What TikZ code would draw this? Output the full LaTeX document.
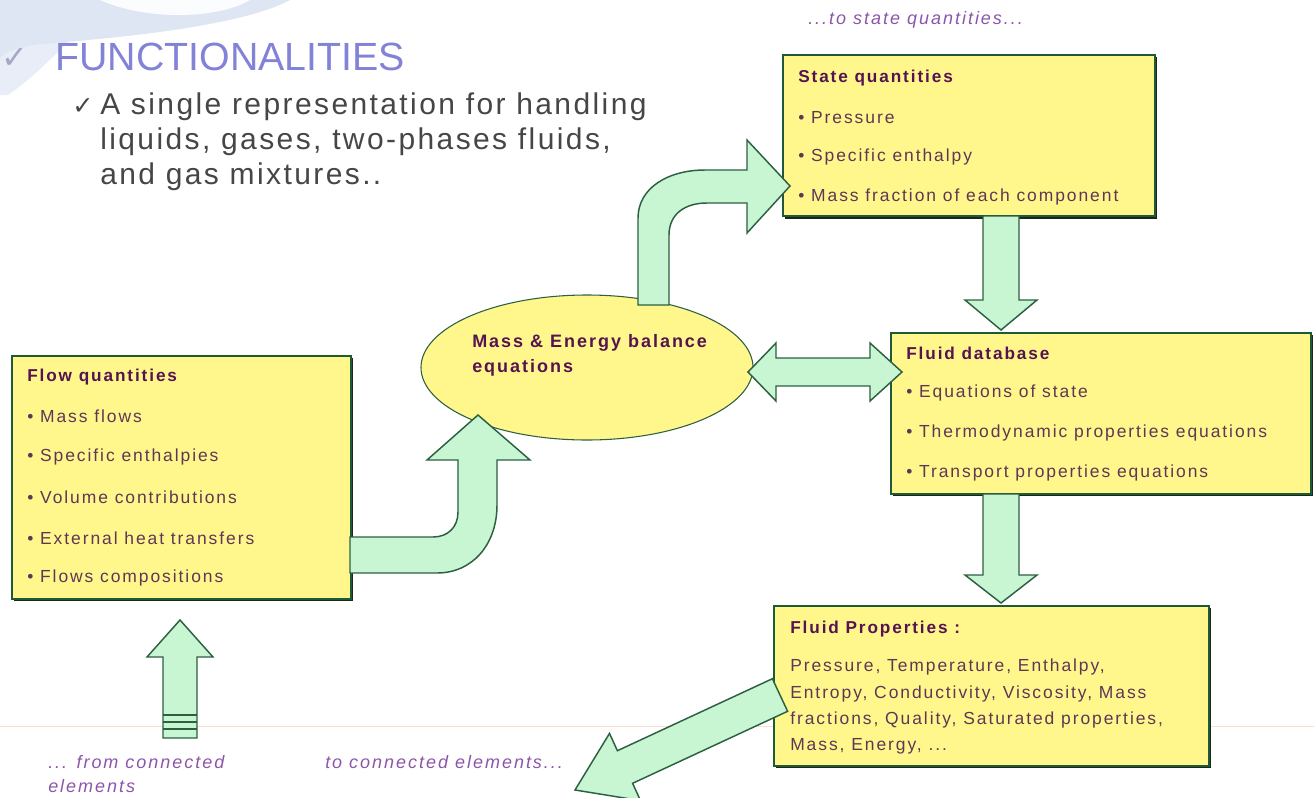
\documentclass[tikz,border=0pt]{standalone}
\usepackage{fontspec}
\setmainfont{Liberation Sans}
\newfontfamily\boxfont[LetterSpace=11]{Liberation Sans}
\newfontfamily\bulfont[LetterSpace=8]{Liberation Sans}
\newfontfamily\symfont{DejaVu Sans}
\usetikzlibrary{shapes.geometric,shadows}
\definecolor{boxfill}{RGB}{255,247,140}
\definecolor{boxline}{RGB}{30,90,55}
\definecolor{shad}{RGB}{25,40,25}
\definecolor{agreen}{RGB}{200,245,210}
\definecolor{aline}{RGB}{45,95,65}
\definecolor{hdcol}{RGB}{85,20,80}
\definecolor{bodycol}{RGB}{95,55,85}
\definecolor{labcol}{RGB}{140,85,170}
\definecolor{titcol}{RGB}{130,130,215}
\definecolor{bultxt}{RGB}{70,70,70}
\definecolor{swoosh}{RGB}{222,230,244}
\definecolor{faint}{RGB}{250,222,205}
\begin{document}
\begin{tikzpicture}[x=0.75pt,y=-0.75pt,
  ybox/.style={draw=boxline, line width=1.5pt, fill=boxfill, rectangle, anchor=north west, inner sep=0pt,
    drop shadow={shadow xshift=1.8pt, shadow yshift=-1.8pt, fill=shad, opacity=1}},
  btxt/.style={anchor=west, inner sep=0pt, text=bodycol, font=\boxfont\fontsize{13.1}{15}\selectfont},
  htxt/.style={anchor=west, inner sep=0pt, text=hdcol, font=\boxfont\bfseries\fontsize{12.9}{15}\selectfont},
  etxt/.style={anchor=west, inner sep=0pt, text=hdcol, font=\boxfont\bfseries\fontsize{13.5}{16}\selectfont},
  blk/.style={fill=agreen, draw=aline, line width=1.1pt, line join=miter},
  lab/.style={anchor=west, inner sep=0pt, text=labcol, font=\boxfont\itshape\fontsize{13.5}{16}\selectfont},
  bul/.style={anchor=base west, inner sep=0pt, text=bultxt, font=\bulfont\fontsize{22.5}{26}\selectfont}]
\path[use as bounding box] (0,0) rectangle (1314,797);
% background decorations
\draw[faint, line width=0.75pt] (0,726) -- (1314,726);
\fill[swoosh!70] (0,40) -- (70,40) .. controls (50,60) and (30,80) .. (8,95) -- (0,95) -- cycle;
\fill[swoosh] (0,0) -- (290,0) .. controls (250,22) and (150,36) .. (40,44) .. controls (20,46) and (5,52) .. (0,58) -- cycle;
\fill[white, opacity=0.9] (100,0) .. controls (150,22) and (220,18) .. (250,0) -- cycle;
% title
\node[anchor=base west, inner sep=0pt, text=titcol!55!gray!70, font=\symfont\fontsize{24}{24}\selectfont] (tchk) at (1,68) {✓};
\node[anchor=base west, inner sep=0pt, text=titcol, font=\fontsize{29.5}{30}\selectfont] (title) at (55,70) {FUNCTIONALITIES};
\node[anchor=base west, inner sep=0pt, text=bultxt, font=\symfont\fontsize{19}{19}\selectfont] (bchk) at (72,114) {✓};
\node[bul] (bl1) at (100,114) {A single representation for handling};
\node[bul] (bl2) at (100,149) {liquids, gases, two-phases fluids,};
\node[bul] (bl3) at (100,184) {and gas mixtures..};
% boxes
\node[ybox, minimum width=279pt, minimum height=121pt] (sq) at (782,54) {};
\node[ybox, minimum width=315pt, minimum height=120.75pt] (fdb) at (890,332) {};
\node[ybox, minimum width=254pt, minimum height=182.25pt] (fq) at (11,355) {};
\node[ybox, minimum width=326pt, minimum height=120pt] (fp) at (773,605) {};
\node[ellipse, draw=aline, line width=0.8pt, fill=boxfill, minimum width=249pt, minimum height=108.75pt, inner sep=0pt] (meb) at (587,367.5) {};
% block arrows
\draw[blk] (350,537) -- (433,537) .. controls (448,537) and (458,527) .. (458,512) -- (458,460) -- (427,460) -- (478,415) -- (530,460) -- (497,460) -- (497,505) .. controls (497,545) and (472,573) .. (437,573) -- (350,573) -- cycle;
\draw[blk] (638,305) -- (638,218) .. controls (638,188) and (668,170) .. (705,170) -- (747,170) -- (747,140) -- (790,186) -- (747,233) -- (747,203) -- (707,203) .. controls (685,203) and (669,214) .. (669,235) -- (669,305) -- cycle;
\draw[blk] (748,372) -- (776,343) -- (776,358) -- (870,358) -- (870,343) -- (902,372) -- (870,401) -- (870,386) -- (776,386) -- (776,401) -- cycle;
\draw[blk] (983,216) -- (983,300) -- (965,300) -- (1001,330) -- (1037,300) -- (1019,300) -- (1019,216) -- cycle;
\draw[blk] (983,494) -- (983,575) -- (965,575) -- (1001,603) -- (1037,575) -- (1019,575) -- (1019,494) -- cycle;
\draw[blk] (163,738) -- (163,657) -- (147,657) -- (180,620) -- (213,657) -- (197,657) -- (197,738) -- cycle;
\foreach \yy in {715,722,729} \draw[aline, line width=1pt] (163,\yy) -- (197,\yy);
\draw[blk] (575,790) -- (609.5,733.4) -- (617.4,750.7) -- (772.4,678.7) -- (787.6,711.3) -- (632.6,783.3) -- (640.5,800.6) -- cycle;
% box texts
\node[htxt] (sqh) at (798,78) {State quantities};
\node[btxt] (sq1) at (798,118) {• Pressure};
\node[btxt] (sq2) at (798,157) {• Specific enthalpy};
\node[btxt] (sq3) at (798,197) {• Mass fraction of each component};
\node[htxt] (fdbh) at (906,353) {Fluid database};
\node[btxt] (fdb1) at (906,393) {• Equations of state};
\node[btxt] (fdb2) at (906,433) {• Thermodynamic properties equations};
\node[btxt] (fdb3) at (906,473) {• Transport properties equations};
\node[htxt] (fqh) at (27,377) {Flow quantities};
\node[btxt] (fq1) at (27,416) {• Mass flows};
\node[btxt] (fq2) at (27,457) {• Specific enthalpies};
\node[btxt] (fq3) at (27,497) {• Volume contributions};
\node[btxt] (fq4) at (27,538) {• External heat transfers};
\node[btxt] (fq5) at (27,578) {• Flows compositions};
\node[htxt] (fph) at (790,629) {Fluid Properties :};
\node[btxt] (fp1) at (790,667) {Pressure, Temperature, Enthalpy,};
\node[btxt] (fp2) at (790,694) {Entropy, Conductivity, Viscosity, Mass};
\node[btxt] (fp3) at (790,720) {fractions, Quality, Saturated properties,};
\node[btxt] (fp4) at (790,746) {Mass, Energy, ...};
\node[etxt] (mt1) at (472,343) {Mass \& Energy balance};
\node[etxt] (mt2) at (472,368) {equations};
% labels
\node[lab] (l1) at (808,20) {...to state quantities...};
\node[lab] (l2) at (48,762) {... from connected};
\node[lab] (l3) at (48,786) {elements};
\node[lab] (l4) at (325,762) {to connected elements...};
\end{tikzpicture}
\end{document}
